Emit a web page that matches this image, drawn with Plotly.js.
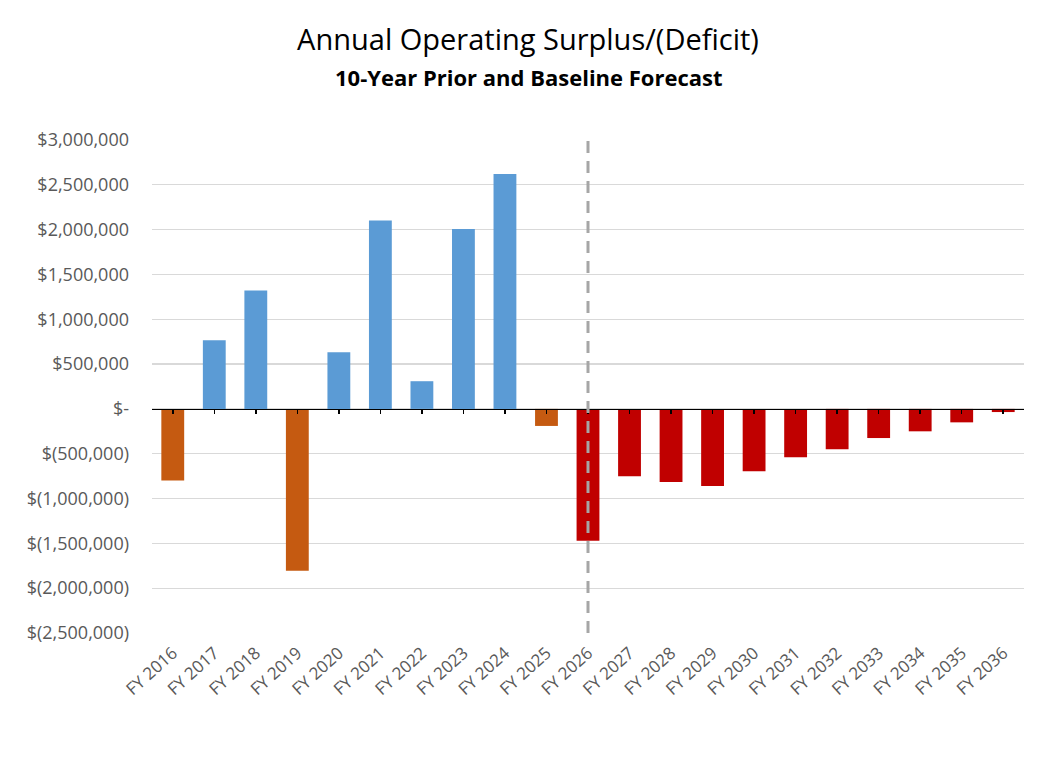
<!DOCTYPE html>
<html>
<head>
<meta charset="utf-8">
<script src="https://cdn.plot.ly/plotly-3.0.1.min.js"></script>
<style>html,body{margin:0;padding:0;background:#fff;}#chart{width:1042px;height:759px;}</style>
</head>
<body>
<div id="chart"></div>
<script>
// ---- Data ----
const fiscalYears = ["FY 2016","FY 2017","FY 2018","FY 2019","FY 2020","FY 2021","FY 2022","FY 2023","FY 2024","FY 2025",
  "FY 2026","FY 2027","FY 2028","FY 2029","FY 2030","FY 2031","FY 2032","FY 2033","FY 2034","FY 2035","FY 2036"];
const surplusDeficit = [-800000, 765000, 1320000, -1805000, 633000, 2103000, 309000, 2006000, 2620000, -190000,
  -1470000, -750000, -815000, -860000, -695000, -540000, -450000, -325000, -250000, -150000, -35000];
const firstForecastYear = "FY 2026";
const yTickValues = [3000000, 2500000, 2000000, 1500000, 1000000, 500000, 0, -500000, -1000000, -1500000, -2000000, -2500000];
const yTickLabels = ["$3,000,000","$2,500,000","$2,000,000","$1,500,000","$1,000,000","$500,000","$-",
  "$(500,000)","$(1,000,000)","$(1,500,000)","$(2,000,000)","$(2,500,000)"];
const titleText = "Annual Operating Surplus/(Deficit)";
const subtitleText = "10-Year Prior and Baseline Forecast";

// ---- Styling ----
const BLUE = "#5B9BD5", ORANGE = "#C55A11", RED = "#C00000";
const forecastStart = fiscalYears.indexOf(firstForecastYear);
const barColors = surplusDeficit.map((v, i) => i >= forecastStart ? RED : (v >= 0 ? BLUE : ORANGE));
const yMin = -2500000, yMax = 3000000;
const zeroPos = (0 - yMin) / (yMax - yMin);
const FONT = "Open Sans, Noto Sans, sans-serif";

const traces = [
  {
    type: "bar",
    x: fiscalYears,
    y: surplusDeficit,
    marker: {color: barColors, line: {width: 0}},
    hoverinfo: "x+y",
    xaxis: "x", yaxis: "y"
  },
  {
    type: "scatter",
    mode: "markers",
    x: fiscalYears,
    y: fiscalYears.map(() => 0),
    marker: {opacity: 0, size: 1},
    hoverinfo: "skip",
    showlegend: false,
    xaxis: "x2", yaxis: "y"
  }
];

const layout = {
  width: 1042, height: 759,
  margin: {l: 152, r: 18, t: 140, b: 126},
  paper_bgcolor: "#ffffff",
  plot_bgcolor: "#ffffff",
  showlegend: false,
  bargap: 0.45,
  font: {family: FONT, color: "#595959"},
  title: {
    text: titleText,
    font: {family: FONT, size: 29, color: "#000000"},
    x: 528 / 1042, xref: "container", xanchor: "center",
    y: 1 - 40 / 759, yref: "container", yanchor: "middle"
  },
  annotations: [{
    text: "<b>" + subtitleText + "</b>",
    xref: "paper", yref: "paper",
    x: (529 - 152) / (1042 - 152 - 18), xanchor: "center",
    y: 1 + (140 - 77) / (759 - 140 - 126), yanchor: "middle",
    showarrow: false,
    font: {family: FONT, size: 22, color: "#000000"}
  }],
  xaxis: {
    type: "category",
    categoryorder: "array", categoryarray: fiscalYears,
    range: [-0.5, fiscalYears.length - 0.5],
    tickangle: -42,
    tickfont: {family: FONT, size: 17, color: "#595959"},
    showgrid: false, zeroline: false, showline: false,
    ticks: "", ticklabelstandoff: 6, fixedrange: true
  },
  xaxis2: {
    type: "category",
    categoryorder: "array", categoryarray: fiscalYears,
    range: [-0.5, fiscalYears.length - 0.5],
    overlaying: "x", anchor: "free", position: zeroPos,
    showline: true, linecolor: "#000000", linewidth: 1.5,
    ticks: "outside", ticklen: 4, tickwidth: 1.5, tickcolor: "#000000",
    showticklabels: false, showgrid: false, zeroline: false
  },
  yaxis: {
    range: [yMin, yMax],
    tickvals: yTickValues, ticktext: yTickLabels,
    tickfont: {family: FONT, size: 18, color: "#595959"},
    showgrid: true, gridcolor: "#D9D9D9", gridwidth: 1.3,
    zeroline: false, showline: false, ticks: "",
    ticklabelstandoff: 22, fixedrange: true
  },
  shapes: [{
    type: "line", layer: "above",
    xref: "x", yref: "paper",
    x0: firstForecastYear, x1: firstForecastYear, y0: 0, y1: 1,
    line: {color: "#A6A6A6", width: 3, dash: "12px,8px"}
  }]
};

Plotly.newPlot("chart", traces, layout, {displayModeBar: false, staticPlot: true});
</script>
</body>
</html>
